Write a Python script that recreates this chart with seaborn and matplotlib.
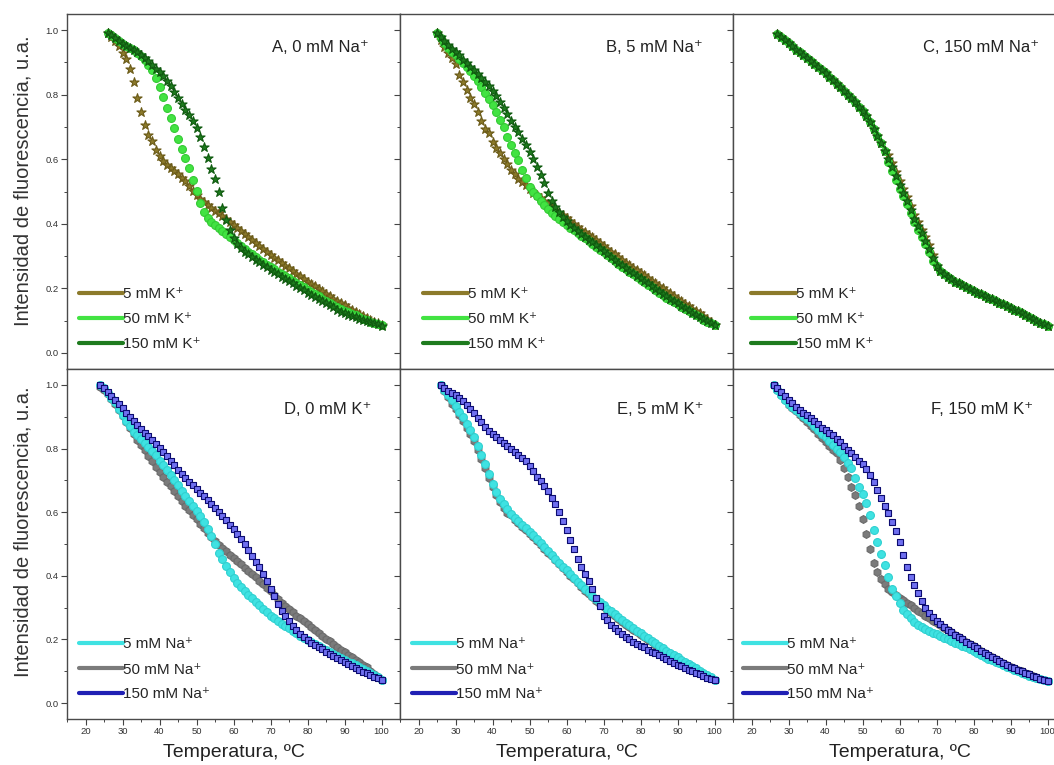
import matplotlib
matplotlib.use("Agg")
import matplotlib.pyplot as plt
from matplotlib.lines import Line2D
from matplotlib.ticker import MultipleLocator, FormatStrFormatter
import pandas as pd
import seaborn as sns

# temperaturas (ºC) de cada panel
temp_a = [26, 27, 28, 29, 30, 31, 32, 33, 34, 35, 36, 37, 38, 39, 40, 41, 42, 43, 44, 45,
          46, 47, 48, 49, 50, 51, 52, 53, 54, 55, 56, 57, 58, 59, 60, 61, 62, 63, 64, 65,
          66, 67, 68, 69, 70, 71, 72, 73, 74, 75, 76, 77, 78, 79, 80, 81, 82, 83, 84, 85,
          86, 87, 88, 89, 90, 91, 92, 93, 94, 95, 96, 97, 98, 99, 100]
temp_b = [25, 26, 27, 28, 29, 30, 31, 32, 33, 34, 35, 36, 37, 38, 39, 40, 41, 42, 43, 44,
          45, 46, 47, 48, 49, 50, 51, 52, 53, 54, 55, 56, 57, 58, 59, 60, 61, 62, 63, 64,
          65, 66, 67, 68, 69, 70, 71, 72, 73, 74, 75, 76, 77, 78, 79, 80, 81, 82, 83, 84,
          85, 86, 87, 88, 89, 90, 91, 92, 93, 94, 95, 96, 97, 98, 99, 100]
temp_c = [27, 28, 29, 30, 31, 32, 33, 34, 35, 36, 37, 38, 39, 40, 41, 42, 43, 44, 45, 46,
          47, 48, 49, 50, 51, 52, 53, 54, 55, 56, 57, 58, 59, 60, 61, 62, 63, 64, 65, 66,
          67, 68, 69, 70, 71, 72, 73, 74, 75, 76, 77, 78, 79, 80, 81, 82, 83, 84, 85, 86,
          87, 88, 89, 90, 91, 92, 93, 94, 95, 96, 97, 98, 99, 100]
temp_d = [24, 25, 26, 27, 28, 29, 30, 31, 32, 33, 34, 35, 36, 37, 38, 39, 40, 41, 42, 43,
          44, 45, 46, 47, 48, 49, 50, 51, 52, 53, 54, 55, 56, 57, 58, 59, 60, 61, 62, 63,
          64, 65, 66, 67, 68, 69, 70, 71, 72, 73, 74, 75, 76, 77, 78, 79, 80, 81, 82, 83,
          84, 85, 86, 87, 88, 89, 90, 91, 92, 93, 94, 95, 96, 97, 98, 99, 100]
temp_ef = temp_a

# A, 0 mM Na+
a_5k = [0.99, 0.98, 0.965, 0.95, 0.93, 0.91, 0.88, 0.84, 0.79, 0.745,
        0.705, 0.675, 0.655, 0.63, 0.61, 0.595, 0.583, 0.573, 0.564, 0.554,
        0.543, 0.532, 0.518, 0.503, 0.49, 0.478, 0.467, 0.457, 0.448, 0.44,
        0.432, 0.424, 0.415, 0.406, 0.397, 0.388, 0.378, 0.369, 0.36, 0.35,
        0.34, 0.331, 0.322, 0.313, 0.304, 0.295, 0.287, 0.279, 0.27, 0.262,
        0.254, 0.245, 0.237, 0.229, 0.221, 0.214, 0.206, 0.198, 0.191, 0.183,
        0.175, 0.168, 0.161, 0.154, 0.147, 0.14, 0.133, 0.127, 0.121, 0.115,
        0.109, 0.103, 0.097, 0.091, 0.085]
a_50k = [0.99, 0.985, 0.975, 0.965, 0.957, 0.95, 0.944, 0.937, 0.93, 0.92,
         0.908, 0.893, 0.875, 0.853, 0.825, 0.793, 0.76, 0.728, 0.697, 0.664,
         0.632, 0.604, 0.573, 0.535, 0.503, 0.465, 0.436, 0.418, 0.405, 0.395,
         0.387, 0.377, 0.368, 0.358, 0.349, 0.34, 0.331, 0.322, 0.313, 0.305,
         0.297, 0.289, 0.281, 0.273, 0.266, 0.259, 0.252, 0.245, 0.238, 0.231,
         0.224, 0.217, 0.21, 0.203, 0.196, 0.189, 0.182, 0.175, 0.168, 0.161,
         0.155, 0.149, 0.143, 0.137, 0.131, 0.126, 0.121, 0.116, 0.111, 0.106,
         0.101, 0.097, 0.093, 0.089, 0.085]
a_150k = [0.99, 0.985, 0.975, 0.966, 0.958, 0.95, 0.944, 0.938, 0.932, 0.924,
          0.914, 0.903, 0.892, 0.881, 0.87, 0.857, 0.842, 0.826, 0.808, 0.789,
          0.771, 0.754, 0.738, 0.72, 0.698, 0.67, 0.638, 0.605, 0.57, 0.54,
          0.5, 0.45, 0.412, 0.38, 0.357, 0.338, 0.325, 0.314, 0.305, 0.297,
          0.289, 0.281, 0.273, 0.266, 0.258, 0.251, 0.243, 0.236, 0.229, 0.222,
          0.215, 0.208, 0.201, 0.194, 0.187, 0.18, 0.173, 0.167, 0.16, 0.153,
          0.147, 0.141, 0.134, 0.128, 0.122, 0.118, 0.114, 0.11, 0.106, 0.102,
          0.098, 0.095, 0.091, 0.088, 0.084]

# B, 5 mM Na+
b_5k = [0.99, 0.97, 0.948, 0.93, 0.913, 0.895, 0.862, 0.838, 0.815, 0.79,
        0.77, 0.747, 0.717, 0.694, 0.68, 0.654, 0.636, 0.619, 0.601, 0.585,
        0.568, 0.553, 0.54, 0.53, 0.519, 0.507, 0.496, 0.488, 0.479, 0.47,
        0.462, 0.452, 0.443, 0.434, 0.426, 0.418, 0.409, 0.4, 0.391, 0.382,
        0.374, 0.366, 0.358, 0.35, 0.341, 0.332, 0.323, 0.314, 0.305, 0.296,
        0.288, 0.28, 0.272, 0.264, 0.256, 0.248, 0.24, 0.232, 0.224, 0.216,
        0.208, 0.2, 0.192, 0.184, 0.176, 0.168, 0.16, 0.152, 0.144, 0.137,
        0.13, 0.123, 0.113, 0.104, 0.095, 0.086]
b_50k = [0.99, 0.975, 0.96, 0.945, 0.932, 0.922, 0.911, 0.899, 0.887, 0.872,
         0.857, 0.842, 0.823, 0.805, 0.788, 0.768, 0.745, 0.722, 0.7, 0.67,
         0.643, 0.62, 0.599, 0.567, 0.542, 0.515, 0.5, 0.485, 0.47, 0.457,
         0.445, 0.434, 0.424, 0.414, 0.405, 0.397, 0.388, 0.38, 0.371, 0.363,
         0.355, 0.347, 0.338, 0.329, 0.32, 0.311, 0.302, 0.293, 0.284, 0.275,
         0.267, 0.259, 0.251, 0.243, 0.235, 0.227, 0.219, 0.211, 0.203, 0.195,
         0.187, 0.179, 0.171, 0.164, 0.157, 0.15, 0.143, 0.136, 0.129, 0.122,
         0.116, 0.11, 0.103, 0.097, 0.091, 0.085]
b_150k = [0.99, 0.978, 0.965, 0.953, 0.943, 0.933, 0.923, 0.909, 0.897, 0.886,
          0.875, 0.863, 0.851, 0.839, 0.826, 0.81, 0.795, 0.777, 0.758, 0.74,
          0.72, 0.7, 0.683, 0.664, 0.644, 0.622, 0.6, 0.576, 0.552, 0.525,
          0.494, 0.472, 0.452, 0.436, 0.422, 0.409, 0.397, 0.387, 0.378, 0.369,
          0.36, 0.351, 0.342, 0.333, 0.324, 0.315, 0.306, 0.297, 0.288, 0.279,
          0.271, 0.263, 0.255, 0.247, 0.239, 0.231, 0.223, 0.215, 0.207, 0.199,
          0.191, 0.183, 0.175, 0.167, 0.16, 0.153, 0.146, 0.139, 0.132, 0.125,
          0.118, 0.112, 0.105, 0.098, 0.091, 0.085]

# C, 150 mM Na+
c_5k = [0.988, 0.979, 0.969, 0.959, 0.95, 0.94, 0.931, 0.922, 0.913, 0.904,
        0.894, 0.885, 0.876, 0.866, 0.855, 0.844, 0.834, 0.823, 0.812, 0.8,
        0.789, 0.776, 0.763, 0.748, 0.734, 0.715, 0.695, 0.673, 0.65, 0.627,
        0.613, 0.587, 0.559, 0.531, 0.508, 0.482, 0.454, 0.427, 0.404, 0.382,
        0.36, 0.333, 0.303, 0.27, 0.255, 0.245, 0.236, 0.228, 0.221, 0.215,
        0.209, 0.203, 0.197, 0.192, 0.187, 0.181, 0.176, 0.171, 0.166, 0.161,
        0.156, 0.151, 0.145, 0.14, 0.134, 0.129, 0.123, 0.118, 0.112, 0.106,
        0.1, 0.094, 0.088, 0.083]
c_50k = [0.988, 0.979, 0.969, 0.959, 0.95, 0.94, 0.931, 0.922, 0.913, 0.904,
         0.894, 0.885, 0.876, 0.866, 0.855, 0.844, 0.834, 0.823, 0.812, 0.8,
         0.789, 0.776, 0.763, 0.748, 0.734, 0.715, 0.695, 0.673, 0.65, 0.627,
         0.591, 0.565, 0.537, 0.509, 0.486, 0.46, 0.432, 0.405, 0.382, 0.36,
         0.338, 0.311, 0.285, 0.27, 0.255, 0.245, 0.236, 0.228, 0.221, 0.215,
         0.209, 0.203, 0.197, 0.192, 0.187, 0.181, 0.176, 0.171, 0.166, 0.161,
         0.156, 0.151, 0.145, 0.14, 0.134, 0.129, 0.123, 0.118, 0.112, 0.106,
         0.1, 0.094, 0.088, 0.083]
c_150k = [0.988, 0.979, 0.969, 0.959, 0.95, 0.94, 0.931, 0.922, 0.913, 0.904,
          0.894, 0.885, 0.876, 0.866, 0.855, 0.844, 0.834, 0.823, 0.812, 0.8,
          0.789, 0.776, 0.763, 0.748, 0.734, 0.715, 0.695, 0.673, 0.65, 0.627,
          0.601, 0.575, 0.547, 0.519, 0.496, 0.47, 0.442, 0.415, 0.392, 0.37,
          0.348, 0.321, 0.293, 0.27, 0.255, 0.245, 0.236, 0.228, 0.221, 0.215,
          0.209, 0.203, 0.197, 0.192, 0.187, 0.181, 0.176, 0.171, 0.166, 0.161,
          0.156, 0.151, 0.145, 0.14, 0.134, 0.129, 0.123, 0.118, 0.112, 0.106,
          0.1, 0.094, 0.088, 0.083]

# D, 0 mM K+
d_5na = [1.0, 0.99, 0.975, 0.96, 0.945, 0.925, 0.905, 0.888, 0.87, 0.852,
         0.842, 0.83, 0.818, 0.805, 0.792, 0.779, 0.762, 0.748, 0.733, 0.717,
         0.7, 0.684, 0.667, 0.651, 0.636, 0.62, 0.604, 0.589, 0.57, 0.548,
         0.525, 0.5, 0.473, 0.452, 0.432, 0.412, 0.394, 0.378, 0.364, 0.352,
         0.34, 0.329, 0.318, 0.307, 0.296, 0.285, 0.275, 0.266, 0.257, 0.249,
         0.242, 0.235, 0.227, 0.22, 0.212, 0.205, 0.198, 0.192, 0.186, 0.18,
         0.174, 0.167, 0.161, 0.154, 0.148, 0.142, 0.136, 0.13, 0.125, 0.119,
         0.113, 0.107, 0.101, 0.095, 0.088, 0.081, 0.074]
d_50na = [0.995, 0.985, 0.97, 0.955, 0.94, 0.922, 0.903, 0.884, 0.864, 0.845,
          0.828, 0.812, 0.796, 0.778, 0.76, 0.743, 0.727, 0.712, 0.696, 0.681,
          0.666, 0.651, 0.636, 0.621, 0.606, 0.592, 0.578, 0.564, 0.55, 0.536,
          0.523, 0.51, 0.498, 0.487, 0.477, 0.467, 0.457, 0.447, 0.437, 0.426,
          0.416, 0.405, 0.395, 0.384, 0.373, 0.362, 0.351, 0.34, 0.328, 0.316,
          0.305, 0.295, 0.285, 0.275, 0.266, 0.257, 0.248, 0.239, 0.23, 0.221,
          0.212, 0.203, 0.194, 0.185, 0.176, 0.168, 0.16, 0.152, 0.144, 0.136,
          0.128, 0.12, 0.112, 0.1, 0.09, 0.082, 0.074]
d_150na = [1.0, 0.99, 0.978, 0.965, 0.952, 0.94, 0.927, 0.912, 0.9, 0.887,
           0.874, 0.861, 0.849, 0.838, 0.827, 0.815, 0.802, 0.789, 0.776, 0.762,
           0.748, 0.734, 0.721, 0.708, 0.696, 0.684, 0.672, 0.661, 0.65, 0.638,
           0.626, 0.613, 0.6, 0.587, 0.574, 0.561, 0.547, 0.532, 0.516, 0.499,
           0.48, 0.463, 0.445, 0.427, 0.407, 0.384, 0.36, 0.336, 0.312, 0.29,
           0.275, 0.258, 0.243, 0.229, 0.217, 0.207, 0.197, 0.19, 0.183, 0.176,
           0.169, 0.161, 0.154, 0.148, 0.142, 0.135, 0.129, 0.122, 0.116, 0.11,
           0.104, 0.099, 0.094, 0.089, 0.083, 0.078, 0.072]

# E, 5 mM K+
e_5na = [1.0, 0.985, 0.968, 0.952, 0.935, 0.916, 0.898, 0.878, 0.857, 0.835,
         0.808, 0.78, 0.75, 0.72, 0.69, 0.665, 0.643, 0.625, 0.609, 0.595,
         0.582, 0.571, 0.56, 0.549, 0.538, 0.527, 0.515, 0.502, 0.49, 0.478,
         0.466, 0.454, 0.441, 0.429, 0.418, 0.406, 0.394, 0.382, 0.37, 0.358,
         0.348, 0.337, 0.327, 0.317, 0.307, 0.297, 0.288, 0.279, 0.27, 0.261,
         0.252, 0.244, 0.236, 0.228, 0.22, 0.212, 0.204, 0.196, 0.188, 0.18,
         0.173, 0.165, 0.158, 0.151, 0.144, 0.137, 0.13, 0.123, 0.116, 0.109,
         0.102, 0.095, 0.088, 0.081, 0.074]
e_50na = [1.0, 0.982, 0.962, 0.94, 0.923, 0.904, 0.886, 0.866, 0.845, 0.823,
          0.796, 0.768, 0.738, 0.708, 0.678, 0.653, 0.631, 0.613, 0.597, 0.59,
          0.577, 0.566, 0.555, 0.544, 0.533, 0.522, 0.51, 0.497, 0.485, 0.473,
          0.461, 0.449, 0.436, 0.424, 0.413, 0.401, 0.389, 0.377, 0.365, 0.353,
          0.343, 0.332, 0.322, 0.312, 0.302, 0.292, 0.283, 0.274, 0.265, 0.256,
          0.247, 0.239, 0.231, 0.223, 0.215, 0.207, 0.199, 0.191, 0.183, 0.175,
          0.168, 0.16, 0.153, 0.146, 0.139, 0.132, 0.125, 0.118, 0.111, 0.104,
          0.097, 0.09, 0.084, 0.078, 0.073]
e_150na = [1.0, 0.99, 0.982, 0.975, 0.967, 0.96, 0.95, 0.938, 0.925, 0.912,
           0.897, 0.882, 0.868, 0.856, 0.846, 0.836, 0.826, 0.817, 0.808, 0.799,
           0.79, 0.781, 0.771, 0.76, 0.745, 0.728, 0.712, 0.697, 0.683, 0.667,
           0.646, 0.626, 0.6, 0.572, 0.543, 0.513, 0.483, 0.454, 0.428, 0.405,
           0.383, 0.36, 0.331, 0.305, 0.274, 0.26, 0.247, 0.235, 0.226, 0.217,
           0.208, 0.2, 0.193, 0.187, 0.181, 0.175, 0.168, 0.162, 0.156, 0.15,
           0.144, 0.138, 0.132, 0.127, 0.121, 0.116, 0.11, 0.105, 0.1, 0.095,
           0.09, 0.085, 0.08, 0.076, 0.072]

# F, 150 mM K+
f_5na = [1.0, 0.985, 0.968, 0.952, 0.94, 0.931, 0.921, 0.912, 0.903, 0.893,
         0.882, 0.87, 0.858, 0.847, 0.836, 0.824, 0.812, 0.8, 0.788, 0.773,
         0.756, 0.739, 0.708, 0.68, 0.657, 0.63, 0.59, 0.543, 0.505, 0.47,
         0.433, 0.395, 0.36, 0.338, 0.315, 0.294, 0.279, 0.266, 0.255, 0.245,
         0.24, 0.233, 0.227, 0.221, 0.216, 0.211, 0.206, 0.2, 0.195, 0.19,
         0.185, 0.18, 0.175, 0.169, 0.163, 0.157, 0.151, 0.145, 0.14, 0.135,
         0.13, 0.125, 0.12, 0.115, 0.11, 0.105, 0.1, 0.095, 0.09, 0.086,
         0.082, 0.078, 0.075, 0.072, 0.069]
f_50na = [1.0, 0.985, 0.968, 0.952, 0.938, 0.927, 0.917, 0.906, 0.895, 0.884,
          0.872, 0.86, 0.847, 0.834, 0.821, 0.808, 0.797, 0.785, 0.763, 0.738,
          0.71, 0.68, 0.653, 0.618, 0.578, 0.532, 0.485, 0.44, 0.412, 0.39,
          0.373, 0.36, 0.349, 0.34, 0.331, 0.323, 0.315, 0.307, 0.299, 0.291,
          0.283, 0.275, 0.267, 0.259, 0.252, 0.244, 0.237, 0.229, 0.222, 0.214,
          0.207, 0.2, 0.193, 0.186, 0.179, 0.172, 0.165, 0.158, 0.152, 0.145,
          0.139, 0.133, 0.127, 0.121, 0.115, 0.11, 0.105, 0.1, 0.095, 0.09,
          0.085, 0.081, 0.077, 0.073, 0.07]
f_150na = [1.0, 0.99, 0.978, 0.965, 0.953, 0.942, 0.932, 0.922, 0.913, 0.904,
           0.895, 0.886, 0.876, 0.866, 0.858, 0.85, 0.842, 0.831, 0.82, 0.808,
           0.796, 0.785, 0.773, 0.762, 0.75, 0.735, 0.716, 0.694, 0.67, 0.645,
           0.621, 0.597, 0.568, 0.54, 0.505, 0.465, 0.428, 0.396, 0.37, 0.346,
           0.322, 0.3, 0.283, 0.27, 0.259, 0.249, 0.24, 0.231, 0.223, 0.215,
           0.208, 0.2, 0.193, 0.186, 0.179, 0.172, 0.165, 0.158, 0.152, 0.145,
           0.139, 0.133, 0.127, 0.121, 0.115, 0.11, 0.105, 0.1, 0.095, 0.09,
           0.085, 0.081, 0.077, 0.073, 0.07]

k_labels = ['5 mM K⁺', '50 mM K⁺', '150 mM K⁺']
na_labels = ['5 mM Na⁺', '50 mM Na⁺', '150 mM Na⁺']
panel_titles = ['A, 0 mM Na⁺', 'B, 5 mM Na⁺', 'C, 150 mM Na⁺',
                'D, 0 mM K⁺', 'E, 5 mM K⁺', 'F, 150 mM K⁺']

# colores y marcadores (5, 50, 150 mM)
k_colors = ['#8c7a2b', '#42e342', '#1e7b1e']
k_edges = ['#6b5b18', '#33c933', '#0f5a0f']
k_markers = ['*', 'o', '*']
na_colors = ['#3fe2e2', '#7b7b7b', '#2020b4']
na_edges = ['#2fd0d0', '#6a6a6a', '#0c0c70']
na_markers = ['o', 'h', 's']
face_150na = '#6f6ff0'

sns.set_style("ticks")
plt.rcParams['font.family'] = ['Liberation Sans', 'DejaVu Sans']

fig, axes = plt.subplots(2, 3, figsize=(10.54, 7.65), dpi=100, sharex=True, sharey=True,
                         gridspec_kw={'height_ratios': [355, 350]})
fig.subplots_adjust(left=67 / 1054, right=1066 / 1054, top=1 - 14 / 765,
                    bottom=1 - 719 / 765, wspace=0, hspace=0)


def draw_panel(ax, temps, data, colors, edges, markers, order):
    for i in order:
        df = pd.DataFrame({'T': temps, 'I': data[i]})
        face = colors[i]
        size = 32
        if markers[i] == '*':
            size = 48
        if markers[i] == 's':
            size = 15
            face = face_150na
        sns.scatterplot(data=df, x='T', y='I', ax=ax, color=face, marker=markers[i],
                        s=size, edgecolor=edges[i], linewidth=0.8, legend=False, zorder=3)
    return [Line2D([], [], color=colors[i], lw=3) for i in range(3)]


panels = [
    (temp_a, [a_5k, a_50k, a_150k], 'k'),
    (temp_b, [b_5k, b_50k, b_150k], 'k'),
    (temp_c, [c_5k, c_50k, c_150k], 'k'),
    (temp_d, [d_5na, d_50na, d_150na], 'na'),
    (temp_ef, [e_5na, e_50na, e_150na], 'na'),
    (temp_ef, [f_5na, f_50na, f_150na], 'na'),
]
title_pos = [(0.905, 0.905), (0.91, 0.905), (0.92, 0.905),
             (0.915, 0.885), (0.91, 0.885), (0.90, 0.885)]
legend_x = [0.035, 0.07, 0.055, 0.035, 0.035, 0.03]

for idx, ax in enumerate(axes.flat):
    temps, data, kind = panels[idx]
    if kind == 'k':
        handles = draw_panel(ax, temps, data, k_colors, k_edges, k_markers, [0, 1, 2])
        labels = k_labels
    else:
        handles = draw_panel(ax, temps, data, na_colors, na_edges, na_markers, [1, 0, 2])
        labels = na_labels
    ax.legend(handles, labels, loc='lower left', bbox_to_anchor=(legend_x[idx], 0.05),
              frameon=False, fontsize=11, handlelength=2.9, handletextpad=0.0,
              labelspacing=0.72, borderpad=0, borderaxespad=0)
    ax.text(title_pos[idx][0], title_pos[idx][1], panel_titles[idx], transform=ax.transAxes,
            ha='right', va='center', fontsize=12, color='#222222')

    ax.set_xlim(15, 105)
    ax.set_ylim(-0.05, 1.05)
    ax.xaxis.set_major_locator(MultipleLocator(10))
    ax.xaxis.set_minor_locator(MultipleLocator(5))
    ax.yaxis.set_major_locator(MultipleLocator(0.2))
    ax.yaxis.set_minor_locator(MultipleLocator(0.1))
    ax.yaxis.set_major_formatter(FormatStrFormatter('%.1f'))
    ax.tick_params(which='major', direction='out', length=4, width=0.8, color='#444444',
                   labelsize=6.8, labelcolor='#333333', pad=2)
    ax.tick_params(which='minor', direction='out', length=2.5, width=0.7, color='#444444')
    for sp in ax.spines.values():
        sp.set_visible(True)
        sp.set_color('#4a4a4a')
        sp.set_linewidth(1.0)
    ax.set_xlabel('')
    ax.set_ylabel('')

for ax in axes[:, 0]:
    ax.set_ylabel('Intensidad de fluorescencia, u.a.', fontsize=14.5, color='#333333')
axes[0, 0].yaxis.set_label_coords(-0.105, 0.53)
axes[1, 0].yaxis.set_label_coords(-0.105, 0.534)
for ax in axes[1, :]:
    ax.set_xlabel('Temperatura, ºC', fontsize=14, color='#222222')
    ax.xaxis.set_label_coords(0.5, -0.072)

fig.savefig('out.png', dpi=100)
